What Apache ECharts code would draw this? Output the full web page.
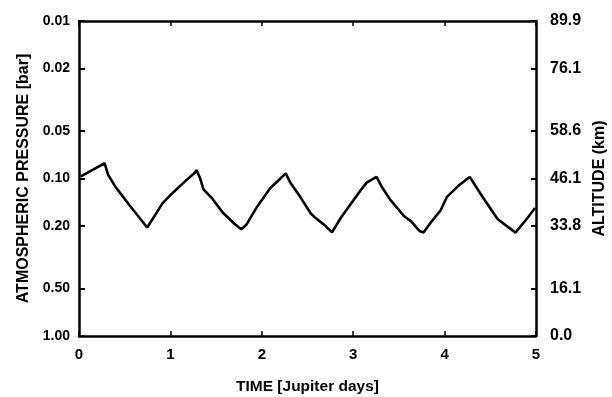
<!DOCTYPE html>
<html>
<head>
<meta charset="utf-8">
<script src="https://cdn.jsdelivr.net/npm/echarts@6/dist/echarts.min.js"></script>
<style>
  html, body { margin: 0; padding: 0; background: #fff; }
  #chart { width: 612px; height: 397px; }
</style>
</head>
<body>
<div id="chart"></div>
<script>
const timeDays = [
  0.02, 0.154, 0.28, 0.319, 0.396, 0.546, 0.746, 0.841, 0.911, 1.018,
  1.16, 1.267, 1.285, 1.323, 1.362, 1.457, 1.57, 1.7, 1.775, 1.828,
  1.951, 2.091, 2.198, 2.262, 2.309, 2.422, 2.536, 2.592, 2.684, 2.768,
  2.865, 2.971, 3.094, 3.147, 3.255, 3.312, 3.407, 3.557, 3.632, 3.725,
  3.769, 3.851, 3.957, 4.026, 4.15, 4.275, 4.409, 4.579, 4.775, 4.889, 4.99
];
const pressureBar = [
  0.097, 0.0877, 0.080, 0.0948, 0.1123, 0.1462, 0.2046, 0.1677, 0.1445, 0.1244,
  0.1043, 0.092, 0.0884, 0.0989, 0.1172, 0.1339, 0.1638, 0.1937, 0.2099, 0.1975,
  0.1504, 0.1154, 0.1008, 0.0927, 0.1056, 0.1312, 0.1667, 0.179, 0.197, 0.22,
  0.1775, 0.1456, 0.1163, 0.1063, 0.0975, 0.1127, 0.1367, 0.1736, 0.1864, 0.2152,
  0.2203, 0.1897, 0.1592, 0.1307, 0.1113, 0.0977, 0.1291, 0.1808, 0.2207, 0.1835, 0.1541
];
const pressureTicks = [0.01, 0.02, 0.05, 0.1, 0.2, 0.5, 1];
const altitudeLabels = ["89.9", "76.1", "58.6", "46.1", "33.8", "16.1", "0.0"];
const timeTicks = [0, 1, 2, 3, 4, 5];

const chart = echarts.init(document.getElementById("chart"));
const font = "Liberation Sans, Arial, sans-serif";
const axisLine = { show: true, onZero: false, lineStyle: { color: "#000", width: 2.5 } };
const gridBox = { left: 79, top: 21, width: 457, height: 315, outerBoundsMode: "none" };

function altitudeFor(v) {
  const i = pressureTicks.findIndex((p) => Math.abs(p - v) / p < 1e-6);
  return i < 0 ? "" : altitudeLabels[i];
}

const logAxis = {
  type: "log",
  logBase: 10,
  min: 0.01,
  max: 1,
  inverse: true,
  splitLine: { show: false },
  axisLine
};

chart.setOption({
  animation: false,
  backgroundColor: "#fff",
  // second grid only carries the outer half of the right-hand "+" ticks
  grid: [gridBox, { ...gridBox }],
  xAxis: [
    {
      type: "value",
      min: 0,
      max: 5,
      interval: 1,
      position: "bottom",
      name: "TIME [Jupiter days]",
      nameLocation: "middle",
      nameGap: 43,
      nameTextStyle: { color: "#000", fontSize: 15.5, fontWeight: "bold", fontFamily: font },
      axisLine,
      axisTick: { inside: true, length: 5, lineStyle: { color: "#000", width: 1.5 } },
      axisLabel: { color: "#000", fontSize: 15, fontWeight: "bold", fontFamily: font, margin: 11, customValues: timeTicks },
      splitLine: { show: false }
    },
    {
      type: "value",
      min: 0,
      max: 5,
      interval: 1,
      position: "top",
      axisLine,
      axisTick: { inside: true, length: 5, lineStyle: { color: "#000", width: 1.5 } },
      axisLabel: { show: false },
      splitLine: { show: false }
    },
    {
      type: "value",
      gridIndex: 1,
      min: 0,
      max: 5,
      show: false
    }
  ],
  yAxis: [
    {
      ...logAxis,
      position: "left",
      name: "ATMOSPHERIC PRESSURE [bar]",
      nameLocation: "middle",
      nameRotate: 90,
      nameGap: 47,
      nameTextStyle: { color: "#000", fontSize: 16, fontWeight: "bold", fontFamily: font },
      axisTick: { inside: true, length: 6, customValues: pressureTicks, lineStyle: { color: "#000", width: 2 } },
      axisLabel: {
        color: "#000", fontSize: 14, fontWeight: "bold", fontFamily: font, margin: 9,
        customValues: pressureTicks,
        formatter: (v) => v.toFixed(2)
      }
    },
    {
      ...logAxis,
      position: "right",
      name: "ALTITUDE (km)",
      nameLocation: "middle",
      nameRotate: 90,
      nameGap: 56,
      nameTextStyle: { color: "#000", fontSize: 16, fontWeight: "bold", fontFamily: font },
      axisTick: { inside: true, length: 5, customValues: pressureTicks, lineStyle: { color: "#000", width: 2 } },
      axisLabel: {
        color: "#000", fontSize: 16, fontWeight: "bold", fontFamily: font, margin: 14,
        customValues: pressureTicks,
        formatter: (v) => altitudeFor(v)
      }
    },
    {
      ...logAxis,
      gridIndex: 1,
      position: "right",
      axisLine: { show: false },
      axisTick: { inside: false, length: 5, customValues: pressureTicks, lineStyle: { color: "#000", width: 2 } },
      axisLabel: { show: false }
    }
  ],
  series: [
    {
      type: "line",
      xAxisIndex: 0,
      yAxisIndex: 0,
      data: timeDays.map((t, i) => [t, pressureBar[i]]),
      showSymbol: false,
      lineStyle: { color: "#000", width: 2.6 },
      smooth: false
    }
  ]
});
</script>
</body>
</html>
